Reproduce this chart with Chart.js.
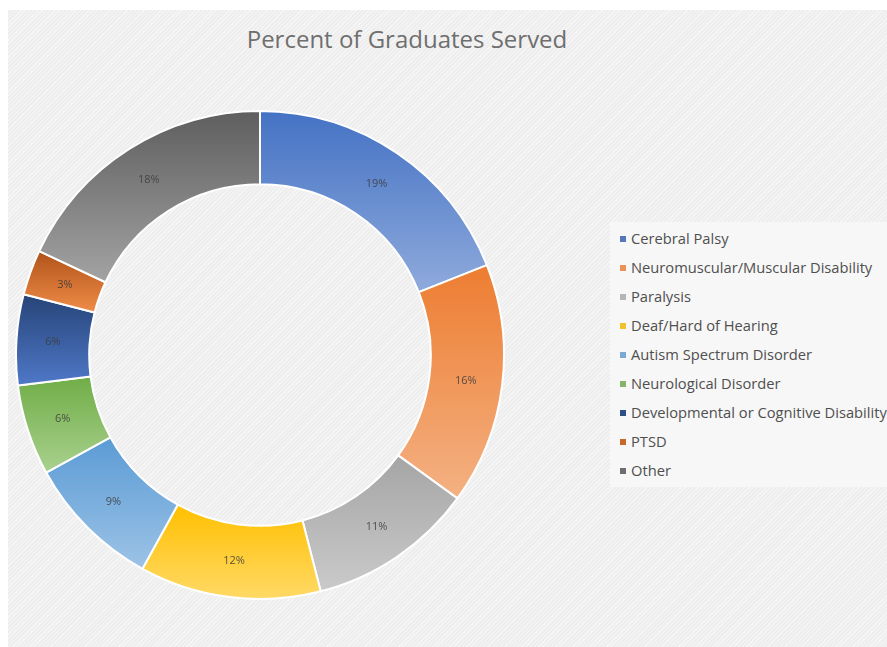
<!DOCTYPE html>
<html>
<head>
<meta charset="utf-8">
<script src="https://cdn.jsdelivr.net/npm/chart.js@4.4.1/dist/chart.umd.min.js"></script>
<style>
  html, body { margin: 0; padding: 0; background: #fff; }
  body { width: 887px; height: 647px; position: relative; overflow: hidden; font-family: 'Open Sans', sans-serif; }
  #panel {
    position: absolute; left: 8px; top: 10px; right: 0; bottom: 0;
    background-color: #eeeeee;
    background-image: repeating-linear-gradient(135deg, rgba(255,255,255,0.45) 0 1px, transparent 1px 3px);
  }
  #title {
    position: absolute; left: 207px; width: 400px; top: 22px; text-align: center;
    font-size: 24px; color: #6f6f6f;
  }
  #wrap { position: absolute; left: 15px; top: 110px; width: 490px; height: 490px; }
  #legend {
    position: absolute; left: 610px; top: 222px; right: 0; height: 265px;
    background: #f7f7f7; list-style: none; margin: 0; padding: 0;
  }
  #legend li {
    position: absolute; left: 10px; white-space: nowrap;
    font-size: 14.7px; color: #4f4f4f; line-height: 18px;
  }
  #legend li span.sw {
    display: inline-block; width: 6px; height: 6px; margin-right: 5px; vertical-align: 2px;
  }
</style>
</head>
<body>
<div id="panel"></div>
<div id="title">Percent of Graduates Served</div>
<div id="wrap"><canvas id="chart-grads"></canvas></div>
<ul id="legend"></ul>
<script>
const CATEGORIES = [
  'Cerebral Palsy',
  'Neuromuscular/Muscular Disability',
  'Paralysis',
  'Deaf/Hard of Hearing',
  'Autism Spectrum Disorder',
  'Neurological Disorder',
  'Developmental or Cognitive Disability',
  'PTSD',
  'Other',
];
const PERCENTS = [19, 16, 11, 12, 9, 6, 6, 3, 18];

// gradient top / bottom colours per slice
const TOP_COLORS    = ['#4472C4', '#ED7D31', '#A5A5A5', '#FFC000', '#5B9BD5', '#70AD47', '#264478', '#B0531A', '#5E5E5E'];
const BOTTOM_COLORS = ['#8FAADC', '#F4B183', '#CACACA', '#FFD966', '#9DC3E6', '#A9D18E', '#4F78C8', '#F08C48', '#A3A3A3'];
const SWATCH_COLORS = ['#5577BB', '#E8935A', '#B5B5B5', '#F2C12E', '#7AA9D6', '#86B665', '#2E4E86', '#C9682A', '#6E6E6E'];

function sliceGradient(context) {
  const chart = context.chart;
  const ctrl = chart.getDatasetMeta(0).controller;
  const area = chart.chartArea;
  if (!area || !ctrl || !ctrl.outerRadius) return TOP_COLORS[context.dataIndex];

  const i = context.dataIndex;
  const total = PERCENTS.reduce((a, b) => a + b, 0);
  const before = PERCENTS.slice(0, i).reduce((a, b) => a + b, 0);
  const a0 = -Math.PI / 2 + before / total * Math.PI * 2;
  const a1 = a0 + PERCENTS[i] / total * Math.PI * 2;
  const cy = (area.top + area.bottom) / 2;
  let minY = Infinity, maxY = -Infinity;
  for (let k = 0; k <= 40; k++) {
    const a = a0 + (a1 - a0) * k / 40;
    [ctrl.innerRadius, ctrl.outerRadius].forEach(r => {
      const y = cy + r * Math.sin(a);
      minY = Math.min(minY, y);
      maxY = Math.max(maxY, y);
    });
  }
  const g = chart.ctx.createLinearGradient(0, minY, 0, maxY);
  g.addColorStop(0, TOP_COLORS[i]);
  g.addColorStop(1, BOTTOM_COLORS[i]);
  return g;
}

const sliceLabels = {
  id: 'sliceLabels',
  afterDatasetsDraw(chart) {
    const ctx = chart.ctx;
    const meta = chart.getDatasetMeta(0);
    ctx.save();
    ctx.font = '11px "Open Sans", sans-serif';
    ctx.fillStyle = 'rgba(60,60,60,0.85)';
    ctx.textAlign = 'center';
    ctx.textBaseline = 'middle';
    meta.data.forEach((arc, i) => {
      const p = arc.getCenterPoint();
      ctx.fillText(PERCENTS[i] + '%', p.x, p.y);
    });
    ctx.restore();
  },
};

function buildLegend() {
  const ul = document.getElementById('legend');
  ul.innerHTML = CATEGORIES.map((c, i) =>
    `<li style="top:${7 + i * 29}px"><span class="sw" style="background:${SWATCH_COLORS[i]}"></span>${c}</li>`
  ).join('');
}

buildLegend();

new Chart(document.getElementById('chart-grads').getContext('2d'), {
  type: 'doughnut',
  data: {
    labels: CATEGORIES,
    datasets: [{
      data: PERCENTS,
      backgroundColor: sliceGradient,
      borderColor: '#ffffff',
      borderWidth: 2,
    }],
  },
  options: {
    responsive: true,
    maintainAspectRatio: false,
    animation: false,
    cutout: '70%',
    layout: { padding: 0 },
    plugins: {
      legend: { display: false },
      tooltip: { enabled: false },
    },
  },
  plugins: [sliceLabels],
});
</script>
</body>
</html>
